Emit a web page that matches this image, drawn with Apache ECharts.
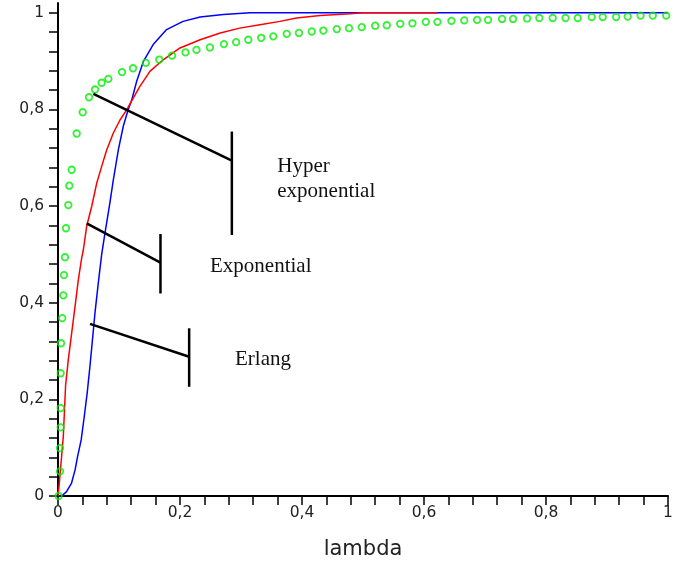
<!DOCTYPE html>
<html>
<head>
<meta charset="utf-8">
<script src="https://cdn.jsdelivr.net/npm/echarts@6/dist/echarts.min.js"></script>
<style>
html,body{margin:0;padding:0;background:#fff;}
#main{width:688px;height:566px;}
</style>
</head>
<body>
<div id="main"></div>
<script>
// ---- data ----
const erlangX = [0, 0.006, 0.014, 0.022, 0.028, 0.032, 0.038, 0.043, 0.048, 0.0525, 0.057, 0.0607, 0.066, 0.0716, 0.077, 0.085, 0.0907, 0.0989, 0.107, 0.115, 0.121, 0.129, 0.140, 0.156, 0.178, 0.205, 0.233, 0.271, 0.315, 1.0];
const erlangY = [0, 0, 0.009, 0.026, 0.054, 0.081, 0.116, 0.164, 0.215, 0.27, 0.33, 0.38, 0.440, 0.500, 0.544, 0.606, 0.654, 0.716, 0.765, 0.799, 0.820, 0.858, 0.899, 0.934, 0.965, 0.982, 0.991, 0.996, 1.0, 1.0];

const expX = [0, 0.0016, 0.0087, 0.0125, 0.0169, 0.0224, 0.0279, 0.0333, 0.0388, 0.0415, 0.047, 0.0552, 0.0634, 0.0716, 0.0798, 0.0907, 0.1016, 0.1126, 0.121, 0.134, 0.151, 0.173, 0.2, 0.233, 0.266, 0.298, 0.331, 0.364, 0.391, 0.43, 0.479, 0.5, 0.623];
const expY = [0, 0.019, 0.123, 0.23, 0.282, 0.337, 0.392, 0.447, 0.492, 0.509, 0.558, 0.599, 0.647, 0.682, 0.716, 0.751, 0.778, 0.799, 0.818, 0.847, 0.879, 0.903, 0.927, 0.944, 0.958, 0.968, 0.975, 0.982, 0.989, 0.994, 0.998, 1.0, 1.0];

const hyperX = [0.001, 0.0033, 0.0033, 0.0044, 0.0044, 0.0044, 0.0049, 0.007, 0.0087, 0.0098, 0.0115, 0.0131, 0.0169, 0.0185, 0.0224, 0.0306, 0.0405, 0.0508, 0.0607, 0.0716, 0.0825, 0.105, 0.123, 0.144, 0.166, 0.187, 0.209, 0.227, 0.249,
  0.272, 0.292, 0.312, 0.333, 0.353, 0.375, 0.395, 0.416, 0.435, 0.457, 0.477, 0.498, 0.520, 0.539, 0.561, 0.581, 0.603, 0.622, 0.645, 0.666, 0.687, 0.705, 0.728, 0.746, 0.769, 0.789, 0.811, 0.832, 0.852, 0.875, 0.893, 0.915, 0.934, 0.955, 0.975, 0.997];
const hyperY = [0, 0.051, 0.099, 0.142, 0.182, 0.254, 0.316, 0.368, 0.415, 0.457, 0.494, 0.554, 0.602, 0.642, 0.675, 0.750, 0.794, 0.825, 0.841, 0.855, 0.863, 0.877, 0.885, 0.896, 0.903, 0.911, 0.918, 0.923, 0.928,
  0.935, 0.939, 0.944, 0.948, 0.951, 0.956, 0.958, 0.961, 0.963, 0.966, 0.968, 0.970, 0.973, 0.974, 0.977, 0.978, 0.981, 0.981, 0.983, 0.984, 0.985, 0.985, 0.987, 0.987, 0.988, 0.989, 0.989, 0.989, 0.989, 0.991, 0.991, 0.991, 0.992, 0.994, 0.994, 0.994];

const xTickLabels = [0, 0.2, 0.4, 0.6, 0.8, 1];
const yTickLabels = [0, 0.2, 0.4, 0.6, 0.8, 1];
const minorStep = 0.04;

// annotation pointers, in data units: [tip, knee], bar: [top, bottom]
const annotations = [
  { text: ['Hyper', 'exponential'], pointer: [[0.058, 0.832], [0.285, 0.694]], bar: [[0.285, 0.754], [0.285, 0.540]], label: [0.3595, 0.6677], lineGap: 0.0517 },
  { text: ['Exponential'], pointer: [[0.047, 0.564], [0.168, 0.483]], bar: [[0.168, 0.542], [0.168, 0.419]], label: [0.2492, 0.4608], lineGap: 0 },
  { text: ['Erlang'], pointer: [[0.0525, 0.356], [0.215, 0.288]], bar: [[0.215, 0.347], [0.215, 0.226]], label: [0.2902, 0.2675], lineGap: 0 }
];

// ---- build ----
const zip = (xs, ys) => xs.map((x, i) => [x, ys[i]]);
const tickVals = [];
for (let i = 0; i <= 25; i++) tickVals.push(+(i * minorStep).toFixed(4));
const fmt = v => String(+(+v).toFixed(2)).replace('.', ',');

const axisCommon = {
  type: 'value',
  interval: minorStep,
  splitLine: { show: false },
  axisLine: { show: true, onZero: false, lineStyle: { color: '#000', width: 2 } },
  axisTick: { show: true, inside: false, length: 9, lineStyle: { color: '#000', width: 1.5 }, customValues: tickVals },
  axisLabel: { color: '#222', fontFamily: 'DejaVu Sans', fontSize: 15.5, formatter: fmt }
};

const chart = echarts.init(document.getElementById('main'), null, { renderer: 'canvas' });
chart.setOption({
  animation: false,
  backgroundColor: '#fff',
  grid: { left: 58, right: 20, top: 3, bottom: 70, containLabel: false },
  xAxis: Object.assign({}, axisCommon, {
    min: 0, max: 1,
    name: 'lambda', nameLocation: 'middle', nameGap: 43,
    nameTextStyle: { fontFamily: 'DejaVu Sans', fontSize: 21, color: '#222' },
    axisLabel: Object.assign({}, axisCommon.axisLabel, { customValues: xTickLabels, margin: 9 })
  }),
  yAxis: Object.assign({}, axisCommon, {
    min: 0, max: 1.02,
    axisLabel: Object.assign({}, axisCommon.axisLabel, { customValues: yTickLabels, margin: 14 })
  }),
  series: [
    { name: 'Erlang', type: 'line', data: zip(erlangX, erlangY), showSymbol: false, symbol: 'none',
      lineStyle: { color: '#0000ff', width: 1.5 }, z: 3 },
    { name: 'Exponential', type: 'line', data: zip(expX, expY), showSymbol: false, symbol: 'none',
      lineStyle: { color: '#ff0000', width: 1.5 }, z: 4 },
    { name: 'Hyper exponential', type: 'scatter', data: zip(hyperX, hyperY), symbol: 'circle', symbolSize: 6.5,
      itemStyle: { color: 'rgba(0,0,0,0)', borderColor: '#00ee00', borderWidth: 1.8 }, z: 5 }
  ]
});

// annotations positioned through the chart's own scales
const px = p => chart.convertToPixel({ gridIndex: 0 }, p);
const graphics = [];
annotations.forEach(a => {
  const p0 = px(a.pointer[0]), p1 = px(a.pointer[1]);
  const b0 = px(a.bar[0]), b1 = px(a.bar[1]);
  graphics.push({ type: 'line', shape: { x1: p0[0], y1: p0[1], x2: p1[0], y2: p1[1] }, style: { stroke: '#000', lineWidth: 2.5 }, z: 10 });
  graphics.push({ type: 'line', shape: { x1: b0[0], y1: b0[1], x2: b1[0], y2: b1[1] }, style: { stroke: '#000', lineWidth: 2.5 }, z: 10 });
  a.text.forEach((t, i) => {
    const lp = px([a.label[0], a.label[1] - i * a.lineGap]);
    graphics.push({ type: 'text', x: lp[0], y: lp[1] - 7,
      style: { text: t, fill: '#111', font: '21px "Liberation Serif", "Times New Roman", serif', textAlign: 'left', textVerticalAlign: 'middle' }, z: 10 });
  });
});
chart.setOption({ graphic: graphics });
</script>
</body>
</html>
